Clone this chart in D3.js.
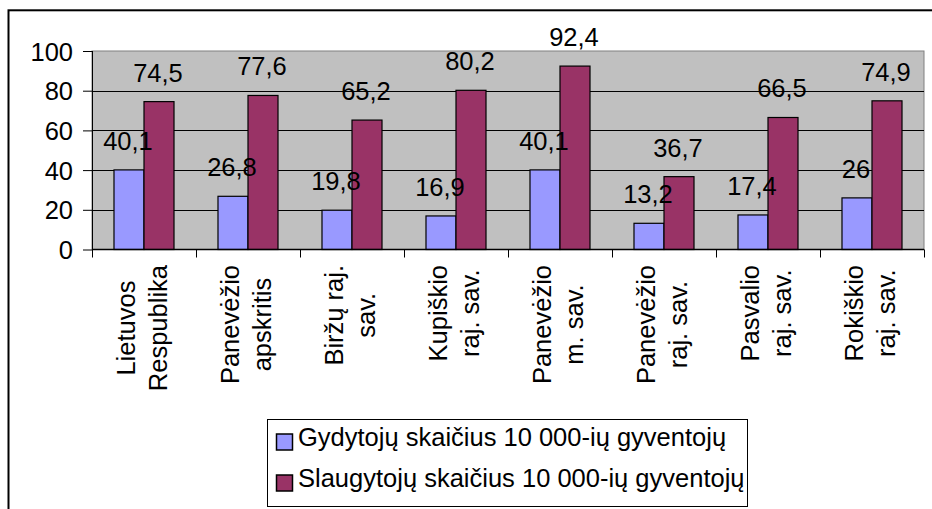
<!DOCTYPE html>
<html><head><meta charset="utf-8">
<script src="https://cdn.jsdelivr.net/npm/d3@7"></script>
<style>
html,body{margin:0;padding:0;background:#fff;}
svg text{font-family:"Liberation Sans",Arial,sans-serif;font-size:25.5px;fill:#000;}
</style></head>
<body>
<svg id="chart" width="932" height="509"></svg>
<script>
const categories = [
  ["Lietuvos","Respublika"],
  ["Panevėžio","apskritis"],
  ["Biržų raj.","sav."],
  ["Kupiškio","raj. sav."],
  ["Panevėžio","m. sav."],
  ["Panevėžio","raj. sav."],
  ["Pasvalio","raj. sav."],
  ["Rokiškio","raj. sav."]
];
const seriesNames = ["Gydytojų skaičius 10 000-ių gyventojų","Slaugytojų skaičius 10 000-ių gyventojų"];
const gydytojai = [40.1, 26.8, 19.8, 16.9, 40.1, 13.2, 17.4, 26];
const slaugytojai = [74.5, 77.6, 65.2, 80.2, 92.4, 36.7, 66.5, 74.9];
const yTicks = [0, 20, 40, 60, 80, 100];
const colors = ["#9999FF", "#993366"];

const svg = d3.select("#chart");
const plot = {left: 92, right: 924, top: 51, bottom: 249.5};
const catKeys = categories.map((c, i) => i);
const seriesData = [gydytojai, slaugytojai];

// outer frame
svg.append("rect").attr("x", 8.5).attr("y", 10.3).attr("width", 1000).attr("height", 1000)
  .attr("fill", "none").attr("stroke", "#000").attr("stroke-width", 2);

const y = d3.scaleLinear().domain([0, 100]).range([plot.bottom, plot.top]);
const p = 0.423;
const x0 = d3.scaleBand().domain(catKeys).range([plot.left, plot.right]).paddingInner(p).paddingOuter(p / 2);
const x1 = d3.scaleBand().domain([0, 1]).range([0, x0.bandwidth()]);
const step = x0.step();

// plot background
svg.append("rect").attr("x", plot.left).attr("y", plot.top)
  .attr("width", plot.right - plot.left).attr("height", plot.bottom - plot.top)
  .attr("fill", "#C0C0C0").attr("stroke", "#808080").attr("stroke-width", 1);

// gridlines
svg.append("g").selectAll("line").data(yTicks.filter(t => t > 0 && t < 100)).join("line")
  .attr("x1", plot.left).attr("x2", plot.right)
  .attr("y1", d => Math.round(y(d)) + 0.5).attr("y2", d => Math.round(y(d)) + 0.5)
  .attr("stroke", "#000").attr("stroke-width", 1);

// y axis
const yAxis = d3.axisLeft(y).tickValues(yTicks).tickSize(9).tickPadding(10).tickFormat(d3.format("d"));
const gy = svg.append("g").attr("transform", `translate(${plot.left},0)`).call(yAxis);
gy.select(".domain").remove();
gy.selectAll(".tick line").attr("stroke", "#000");
gy.attr("font-size", null).attr("font-family", null);
gy.selectAll(".tick text").attr("dy", "0.36em");
svg.append("line").attr("x1", plot.left + 0.5).attr("x2", plot.left + 0.5)
  .attr("y1", plot.top).attr("y2", plot.bottom).attr("stroke", "#000");

// x axis boundary ticks
const bounds = catKeys.map(k => x0(k) - step * p / 2).concat([plot.right]);
svg.append("g").selectAll("line").data(bounds).join("line")
  .attr("x1", d => Math.round(d) + 0.5).attr("x2", d => Math.round(d) + 0.5)
  .attr("y1", plot.bottom).attr("y2", plot.bottom + 8).attr("stroke", "#000");

const fmt = v => String(v).replace(".", ",");

// bars
seriesData.forEach((vals, s) => {
  svg.append("g").selectAll("rect").data(vals).join("rect")
    .attr("x", (d, i) => x0(i) + x1(s))
    .attr("y", d => y(d))
    .attr("width", x1.bandwidth())
    .attr("height", d => y(0) - y(d))
    .attr("fill", colors[s]).attr("stroke", "#000").attr("stroke-width", 1.2);
});
svg.append("line").attr("x1", plot.left).attr("x2", plot.right)
  .attr("y1", plot.bottom).attr("y2", plot.bottom).attr("stroke", "#000").attr("stroke-width", 1.5);

// value labels on top
seriesData.forEach((vals, s) => {
  svg.append("g").selectAll("text").data(vals).join("text")
    .attr("x", (d, i) => x0(i) + x1(s) + x1.bandwidth() / 2 - 1)
    .attr("y", d => y(d) - 20)
    .attr("text-anchor", "middle")
    .text(d => fmt(d));
});

// category labels (rotated, two lines, centered, top-aligned)
const lab = svg.append("g");
catKeys.forEach(i => {
  const cx = x0(i) + x0.bandwidth() / 2;
  const g = lab.append("g").attr("transform", `translate(${cx},265) rotate(-90)`);
  const texts = categories[i].map((line, j) => g.append("text")
    .attr("y", j === 0 ? -9 : 23)
    .text(line));
  const widths = texts.map(t => t.node().getComputedTextLength());
  const maxW = d3.max(widths);
  texts.forEach(t => t.attr("x", -maxW / 2).attr("text-anchor", "middle"));
});

// legend
const leg = svg.append("g");
leg.append("rect").attr("x", 267.5).attr("y", 419.5).attr("width", 480).attr("height", 87)
  .attr("fill", "#fff").attr("stroke", "#000").attr("stroke-width", 1);
seriesNames.forEach((name, s) => {
  const yy = 434 + s * 41;
  leg.append("rect").attr("x", 276.5).attr("y", yy).attr("width", 16).attr("height", 16)
    .attr("fill", colors[s]).attr("stroke", "#000").attr("stroke-width", 1.5);
  leg.append("text").attr("x", 298).attr("y", 446 + s * 41).text(name);
});
</script>
</body></html>
